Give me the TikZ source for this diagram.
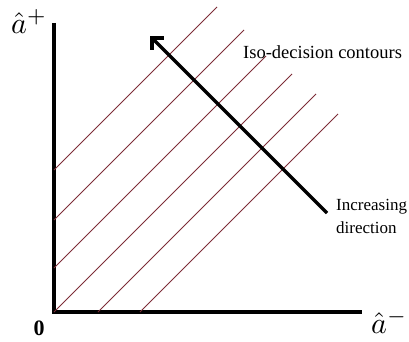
\documentclass[tikz,border=0pt]{standalone}
\usepackage{amsmath}
\usepackage{fontspec}
\setmainfont{Liberation Serif}
\usepackage{tikz}
\usetikzlibrary{arrows.meta}
\definecolor{contourred}{RGB}{125,45,55}

\tikzset{
  axis/.style={line width=3.5pt,line join=miter},
  contour/.style={contourred,line width=0.8pt},
  dirarrow/.style={line width=3.5pt,-{Straight Barb[angle=90:12pt,line cap=butt,line join=miter]}},
  lbl/.style={inner sep=0pt,font=\fontsize{18.5}{23}\selectfont},
  axlbl/.style={inner sep=0pt,anchor=base west}
}
\newcommand{\axmath}[1]{\scalebox{3.0}{$#1$}}

\begin{document}
\begin{tikzpicture}[x=1pt,y=1pt]
        \useasboundingbox (0,0) rectangle (409,341);
        \coordinate (O) at (54,29);
        % axes
        \draw[axis] (54,318) -- (O) -- (362,29);
        % iso-decision contours
        \draw[contour] (54,171) -- (217,334);
        \draw[contour] (54,121) -- (244,311);
        \draw[contour] (54,73) -- (266,285);
        \draw[contour] (O) -- (292,267);
        \draw[contour] (98,29) -- (316,247);
        \draw[contour] (140,29) -- (338,227);
        % direction of increase
        \coordinate (tail) at (327,128);
        \coordinate (head) at (150,305);
        \draw[dirarrow] (tail) -- (head);
        % labels
        \node[axlbl] (ylab) at (11,308) {\axmath{\hat{a}^{+}}};
        \node[axlbl] (xlab) at (371,8) {\axmath{\hat{a}^{-}}};
        \node[inner sep=0pt,anchor=base,font=\fontsize{22}{24}\selectfont\bfseries] (orig) at (39,6) {0};
        \node[lbl,anchor=base west] (isolab) at (243,283) {Iso-decision contours};
        \node[lbl,anchor=west,align=left,font=\fontsize{17}{23}\selectfont] (incrlab) at (336,125) {Increasing\\direction};
      \end{tikzpicture}
\end{document}
